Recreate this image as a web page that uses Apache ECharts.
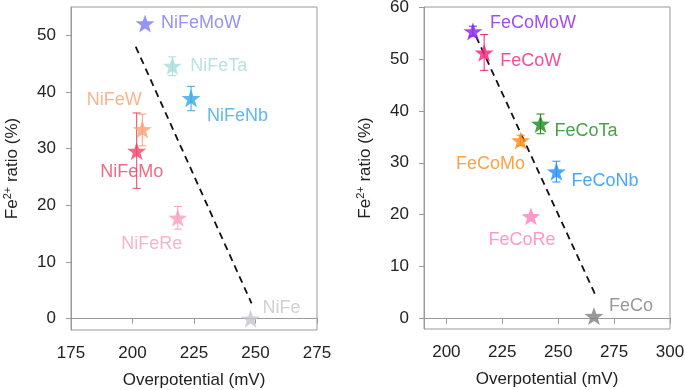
<!DOCTYPE html>
<html>
<head>
<meta charset="utf-8">
<script src="https://cdn.jsdelivr.net/npm/echarts@6/dist/echarts.min.js"></script>
<style>html,body{margin:0;padding:0;background:#fff}#c{width:685px;height:390px}</style>
</head>
<body>
<div id="c"></div>
<script>
// ---- Left panel (NiFe-based) ----
const leftNames = ['NiFeMoW', 'NiFeTa', 'NiFeNb', 'NiFeW', 'NiFeMo', 'NiFeRe', 'NiFe'];
const leftX     = [205.1, 216.2, 223.8, 204.0, 201.7, 218.4, 248.0];
const leftY     = [52.1, 44.6, 38.9, 33.4, 29.6, 17.8, 0.0];
const leftErrLo = [null, 42.9, 36.7, 30.5, 23.0, 15.8, null];
const leftErrHi = [null, 46.2, 41.0, 36.1, 36.3, 19.8, null];
const leftFitX  = [201.3, 248.4];
const leftFitY  = [48.0, 2.7];
const leftXTicks = [175, 200, 225, 250, 275];
const leftYTicks = [0, 10, 20, 30, 40, 50];

// ---- Right panel (FeCo-based) ----
const rightNames = ['FeCoMoW', 'FeCoW', 'FeCoTa', 'FeCoMo', 'FeCoNb', 'FeCoRe', 'FeCo'];
const rightX     = [211.9, 216.9, 242.1, 233.2, 249.2, 237.8, 266.0];
const rightY     = [55.3, 51.2, 37.5, 34.3, 28.3, 19.7, 0.5];
const rightErrLo = [54.4, 47.8, 35.6, 33.3, 26.3, null, null];
const rightErrHi = [56.3, 54.7, 39.4, 35.3, 30.3, null, null];
const rightFitX  = [213.3, 266.5];
const rightFitY  = [54.3, 4.7];
const rightXTicks = [200, 225, 250, 275, 300];
const rightYTicks = [0, 10, 20, 30, 40, 50, 60];

// ---- styles ----
const leftColors  = ['#7b78f0', '#a6dcd8', '#36a6e6', '#f8a070', '#ee4466', '#f9a0b8', '#c4c4cc'];
const rightColors = ['#8a1ff0', '#f0207c', '#1a8a1a', '#ff8a10', '#1e90ff', '#ff80bf', '#808080'];
// label placement: [align, dx, dy]
const leftLabelPos = [['left',16,0],['left',18,0],['left',16,18],['center',-28,-29],['center',-5,21],['center',-26,26],['left',12,-11]];
const rightLabelPos = [['left',17,-8],['left',16,8],['left',14,7],['center',-30,24],['left',15,9],['center',-9,24],['left',15,-10]];

const FONT = '"Liberation Sans", Arial, Helvetica, sans-serif';
const STAR = 'path://M0,-10 L2.35,-3.24 L9.51,-3.09 L3.8,1.24 L5.88,8.09 L0,4 L-5.88,8.09 L-3.8,1.24 L-9.51,-3.09 L-2.35,-3.24 Z';
const AXIS_COLOR = '#9a9a9a';

function xAxisCfg(idx, min, max, ticks) {
  return {
    gridIndex: idx, type: 'value', min: min, max: max,
    name: 'Overpotential (mV)', nameLocation: 'middle', nameGap: 42,
    nameTextStyle: { fontFamily: FONT, fontSize: 17, color: '#222' },
    axisLine: { show: true, lineStyle: { color: AXIS_COLOR, width: 1 } },
    axisTick: { show: true, length: 5, customValues: ticks, lineStyle: { color: AXIS_COLOR } },
    axisLabel: { customValues: ticks, fontFamily: FONT, fontSize: 17, color: '#222', margin: 15 },
    splitLine: { show: false }
  };
}
function yAxisCfg(idx, min, max, ticks) {
  return {
    gridIndex: idx, type: 'value', min: min, max: max,
    name: 'Fe{sup|2+} ratio (%)', nameLocation: 'middle', nameGap: 48,
    nameTextStyle: { fontFamily: FONT, fontSize: 17, color: '#222',
      rich: { sup: { fontFamily: FONT, fontSize: 11, color: '#222', verticalAlign: 'top', padding: [0, 0, 10, 0] } } },
    axisLine: { show: true, lineStyle: { color: AXIS_COLOR, width: 1 } },
    axisTick: { show: true, length: 5, customValues: ticks, lineStyle: { color: AXIS_COLOR } },
    axisLabel: { customValues: ticks, fontFamily: FONT, fontSize: 17, color: '#222', margin: 15 },
    splitLine: { show: false }
  };
}

function scatterSeries(idx, names, xs, ys, colors, pos) {
  return {
    type: 'scatter', xAxisIndex: idx, yAxisIndex: idx, z: 5,
    symbol: STAR, symbolSize: 19, symbolKeepAspect: true,
    data: names.map((n, i) => ({
      name: n, value: [xs[i], ys[i]],
      itemStyle: { color: colors[i] },
      label: {
        show: true, position: 'inside', formatter: n, color: colors[i],
        fontFamily: FONT, fontSize: 18, align: pos[i][0], verticalAlign: 'middle',
        offset: [pos[i][1], pos[i][2]]
      }
    })),
    emphasis: { disabled: true }
  };
}

function errSeries(idx, xs, lo, hi, colors) {
  const data = [];
  xs.forEach((x, i) => { if (lo[i] != null) data.push([x, lo[i], hi[i], i]); });
  return {
    type: 'custom', xAxisIndex: idx, yAxisIndex: idx, z: 4,
    data: data,
    encode: { x: 0, y: [1, 2] },
    renderItem: function (params, api) {
      const x = api.value(0), l = api.value(1), h = api.value(2), ci = api.value(3);
      const p1 = api.coord([x, l]), p2 = api.coord([x, h]);
      const c = colors[ci], w = 4;
      const st = { stroke: c, lineWidth: 1 };
      return { type: 'group', children: [
        { type: 'line', shape: { x1: p1[0], y1: p1[1], x2: p2[0], y2: p2[1] }, style: st },
        { type: 'line', shape: { x1: p1[0] - w, y1: p1[1], x2: p1[0] + w, y2: p1[1] }, style: st },
        { type: 'line', shape: { x1: p2[0] - w, y1: p2[1], x2: p2[0] + w, y2: p2[1] }, style: st }
      ] };
    }
  };
}

function fitSeries(idx, xs, ys) {
  return {
    type: 'line', xAxisIndex: idx, yAxisIndex: idx, z: 3,
    data: xs.map((x, i) => [x, ys[i]]),
    symbol: 'none', silent: true,
    lineStyle: { color: '#111', width: 1.8, type: [7, 5] }
  };
}

const chart = echarts.init(document.getElementById('c'), null, { renderer: 'canvas' });
chart.setOption({
  animation: false,
  backgroundColor: '#fff',
  grid: [
    { left: 71, top: 7, width: 246, height: 323, show: true, borderColor: AXIS_COLOR, borderWidth: 1, backgroundColor: 'transparent', containLabel: false, outerBoundsMode: 'none' },
    { left: 424, top: 7, width: 246, height: 322, show: true, borderColor: AXIS_COLOR, borderWidth: 1, backgroundColor: 'transparent', containLabel: false, outerBoundsMode: 'none' }
  ],
  xAxis: [ xAxisCfg(0, 175, 275, leftXTicks), xAxisCfg(1, 190, 300, rightXTicks) ],
  yAxis: [ yAxisCfg(0, -2, 55, leftYTicks), yAxisCfg(1, -2, 60, rightYTicks) ],
  series: [
    fitSeries(0, leftFitX, leftFitY),
    errSeries(0, leftX, leftErrLo, leftErrHi, leftColors),
    scatterSeries(0, leftNames, leftX, leftY, leftColors, leftLabelPos),
    fitSeries(1, rightFitX, rightFitY),
    errSeries(1, rightX, rightErrLo, rightErrHi, rightColors),
    scatterSeries(1, rightNames, rightX, rightY, rightColors, rightLabelPos)
  ]
});
</script>
</body>
</html>
